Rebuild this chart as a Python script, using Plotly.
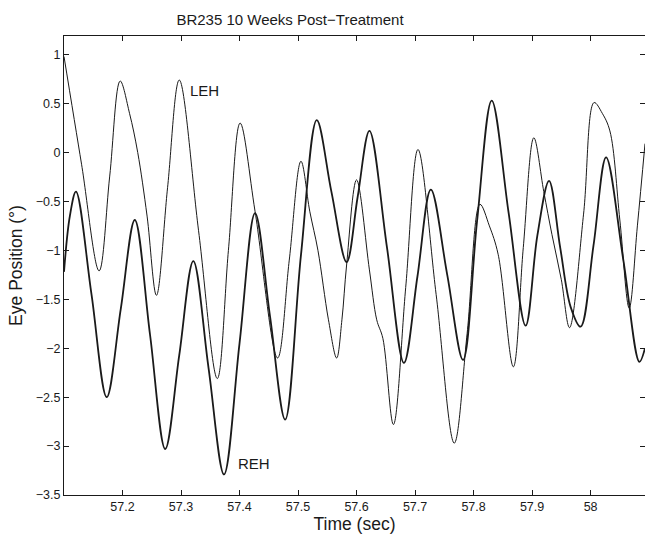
import plotly.graph_objects as go

# ---- data ----
reh_t = [57.100, 57.110, 57.1205, 57.147, 57.173, 57.197, 57.221, 57.247, 57.273, 57.297,
         57.321, 57.347, 57.3735, 57.400, 57.4265, 57.452, 57.478, 57.505, 57.532, 57.557,
         57.583, 57.602, 57.622, 57.652, 57.681, 57.704, 57.727, 57.755, 57.782, 57.806,
         57.831, 57.860, 57.889, 57.909, 57.929, 57.948, 57.966, 57.983, 58.005, 58.0265,
         58.056, 58.0835, 58.093]
reh_v = [-1.22, -0.65, -0.40, -1.45, -2.50, -1.60, -0.69, -1.86, -3.03, -2.07,
         -1.11, -2.20, -3.29, -1.95, -0.62, -1.67, -2.73, -1.05, 0.33, -0.40,
         -1.12, -0.45, 0.22, -0.97, -2.15, -1.27, -0.38, -1.25, -2.12, -0.70,
         0.53, -0.62, -1.77, -0.85, -0.29, -0.97, -1.58, -1.78, -0.95, -0.05,
         -1.10, -2.14, -2.00]

leh_t = [57.100, 57.130, 57.160, 57.178, 57.196, 57.212, 57.226, 57.242, 57.258, 57.277,
         57.297, 57.330, 57.362, 57.381, 57.401, 57.4265, 57.465, 57.485, 57.505, 57.520,
         57.534, 57.552, 57.566, 57.575, 57.583, 57.600, 57.622, 57.6345, 57.645, 57.663,
         57.684, 57.705, 57.736, 57.767, 57.789, 57.811, 57.827, 57.842, 57.868, 57.885,
         57.903, 57.920, 57.934, 57.950, 57.964, 57.988, 58.006, 58.020, 58.033, 58.050,
         58.066, 58.080, 58.093]
leh_v = [0.98, -0.12, -1.21, -0.25, 0.73, 0.40, 0.00, -0.65, -1.46, -0.36,
         0.74, -0.80, -2.31, -1.00, 0.30, -0.60, -2.10, -1.10, -0.09, -0.60,
         -1.00, -1.71, -2.10, -1.71, -1.15, -0.28, -1.20, -1.71, -1.90, -2.78,
         -1.38, 0.03, -1.45, -2.97, -1.85, -0.53, -0.75, -1.04, -2.19, -0.97,
         0.15, -0.40, -0.84, -1.30, -1.79, -0.63, 0.51, 0.40, 0.22, -0.69,
         -1.59, -0.75, 0.09]

x_ticks = [57.2, 57.3, 57.4, 57.5, 57.6, 57.7, 57.8, 57.9, 58.0]
x_tick_labels = ["57.2", "57.3", "57.4", "57.5", "57.6", "57.7", "57.8", "57.9", "58"]
y_ticks = [-3.5, -3.0, -2.5, -2.0, -1.5, -1.0, -0.5, 0.0, 0.5, 1.0]
y_tick_labels = ["\u22123.5", "\u22123", "\u22122.5", "\u22122", "\u22121.5", "\u22121",
                 "\u22120.5", "0", "0.5", "1"]

title_text = "BR235 10 Weeks Post\u2212Treatment"
x_title = "Time (sec)"
y_title = "Eye Position (\u00b0)"

FONT = "Liberation Sans, Arial, Helvetica, sans-serif"
INK = "#1a1a1a"

fig = go.Figure()
fig.add_trace(go.Scatter(x=leh_t, y=leh_v, mode="lines", name="LEH", hoverinfo="skip",
                         line=dict(color=INK, width=1.0, shape="spline", smoothing=1.0)))
fig.add_trace(go.Scatter(x=reh_t, y=reh_v, mode="lines", name="REH", hoverinfo="skip",
                         line=dict(color=INK, width=1.8, shape="spline", smoothing=1.0)))

fig.add_annotation(x=57.312, y=0.63, text="LEH", showarrow=False, xanchor="left",
                   yanchor="middle", font=dict(family=FONT, size=15, color=INK))
fig.add_annotation(x=57.394, y=-3.18, text="REH", showarrow=False, xanchor="left",
                   yanchor="middle", font=dict(family=FONT, size=15, color=INK))

axis_common = dict(showline=True, linecolor=INK, linewidth=1, mirror="ticks",
                   ticks="inside", ticklen=5, tickcolor=INK, showgrid=False,
                   zeroline=False, tickfont=dict(family=FONT, size=12.5, color=INK))

fig.update_xaxes(range=[57.1, 58.093], tickmode="array", tickvals=x_ticks,
                 ticktext=x_tick_labels,
                 title=dict(text=x_title, font=dict(family=FONT, size=17.5, color=INK), standoff=2),
                 **axis_common)
fig.update_yaxes(range=[-3.5, 1.19], tickmode="array", tickvals=y_ticks,
                 ticktext=y_tick_labels,
                 title=dict(text=y_title, font=dict(family=FONT, size=17.5, color=INK), standoff=8),
                 **axis_common)

fig.update_layout(
    width=645, height=534,
    margin=dict(l=64, r=0, t=36, b=39, pad=0),
    paper_bgcolor="white", plot_bgcolor="white",
    showlegend=False,
    hovermode=False,
    title=dict(text=title_text, x=290 / 645, xref="container", xanchor="center",
               y=1 - 20 / 534, yref="container", yanchor="middle",
               font=dict(family=FONT, size=15, color=INK)),
)

fig.write_html(
    "out.html",
    config={"displayModeBar": False, "staticPlot": True},
    post_script="document.body.style.margin='0';document.body.style.overflow='hidden';",
)
